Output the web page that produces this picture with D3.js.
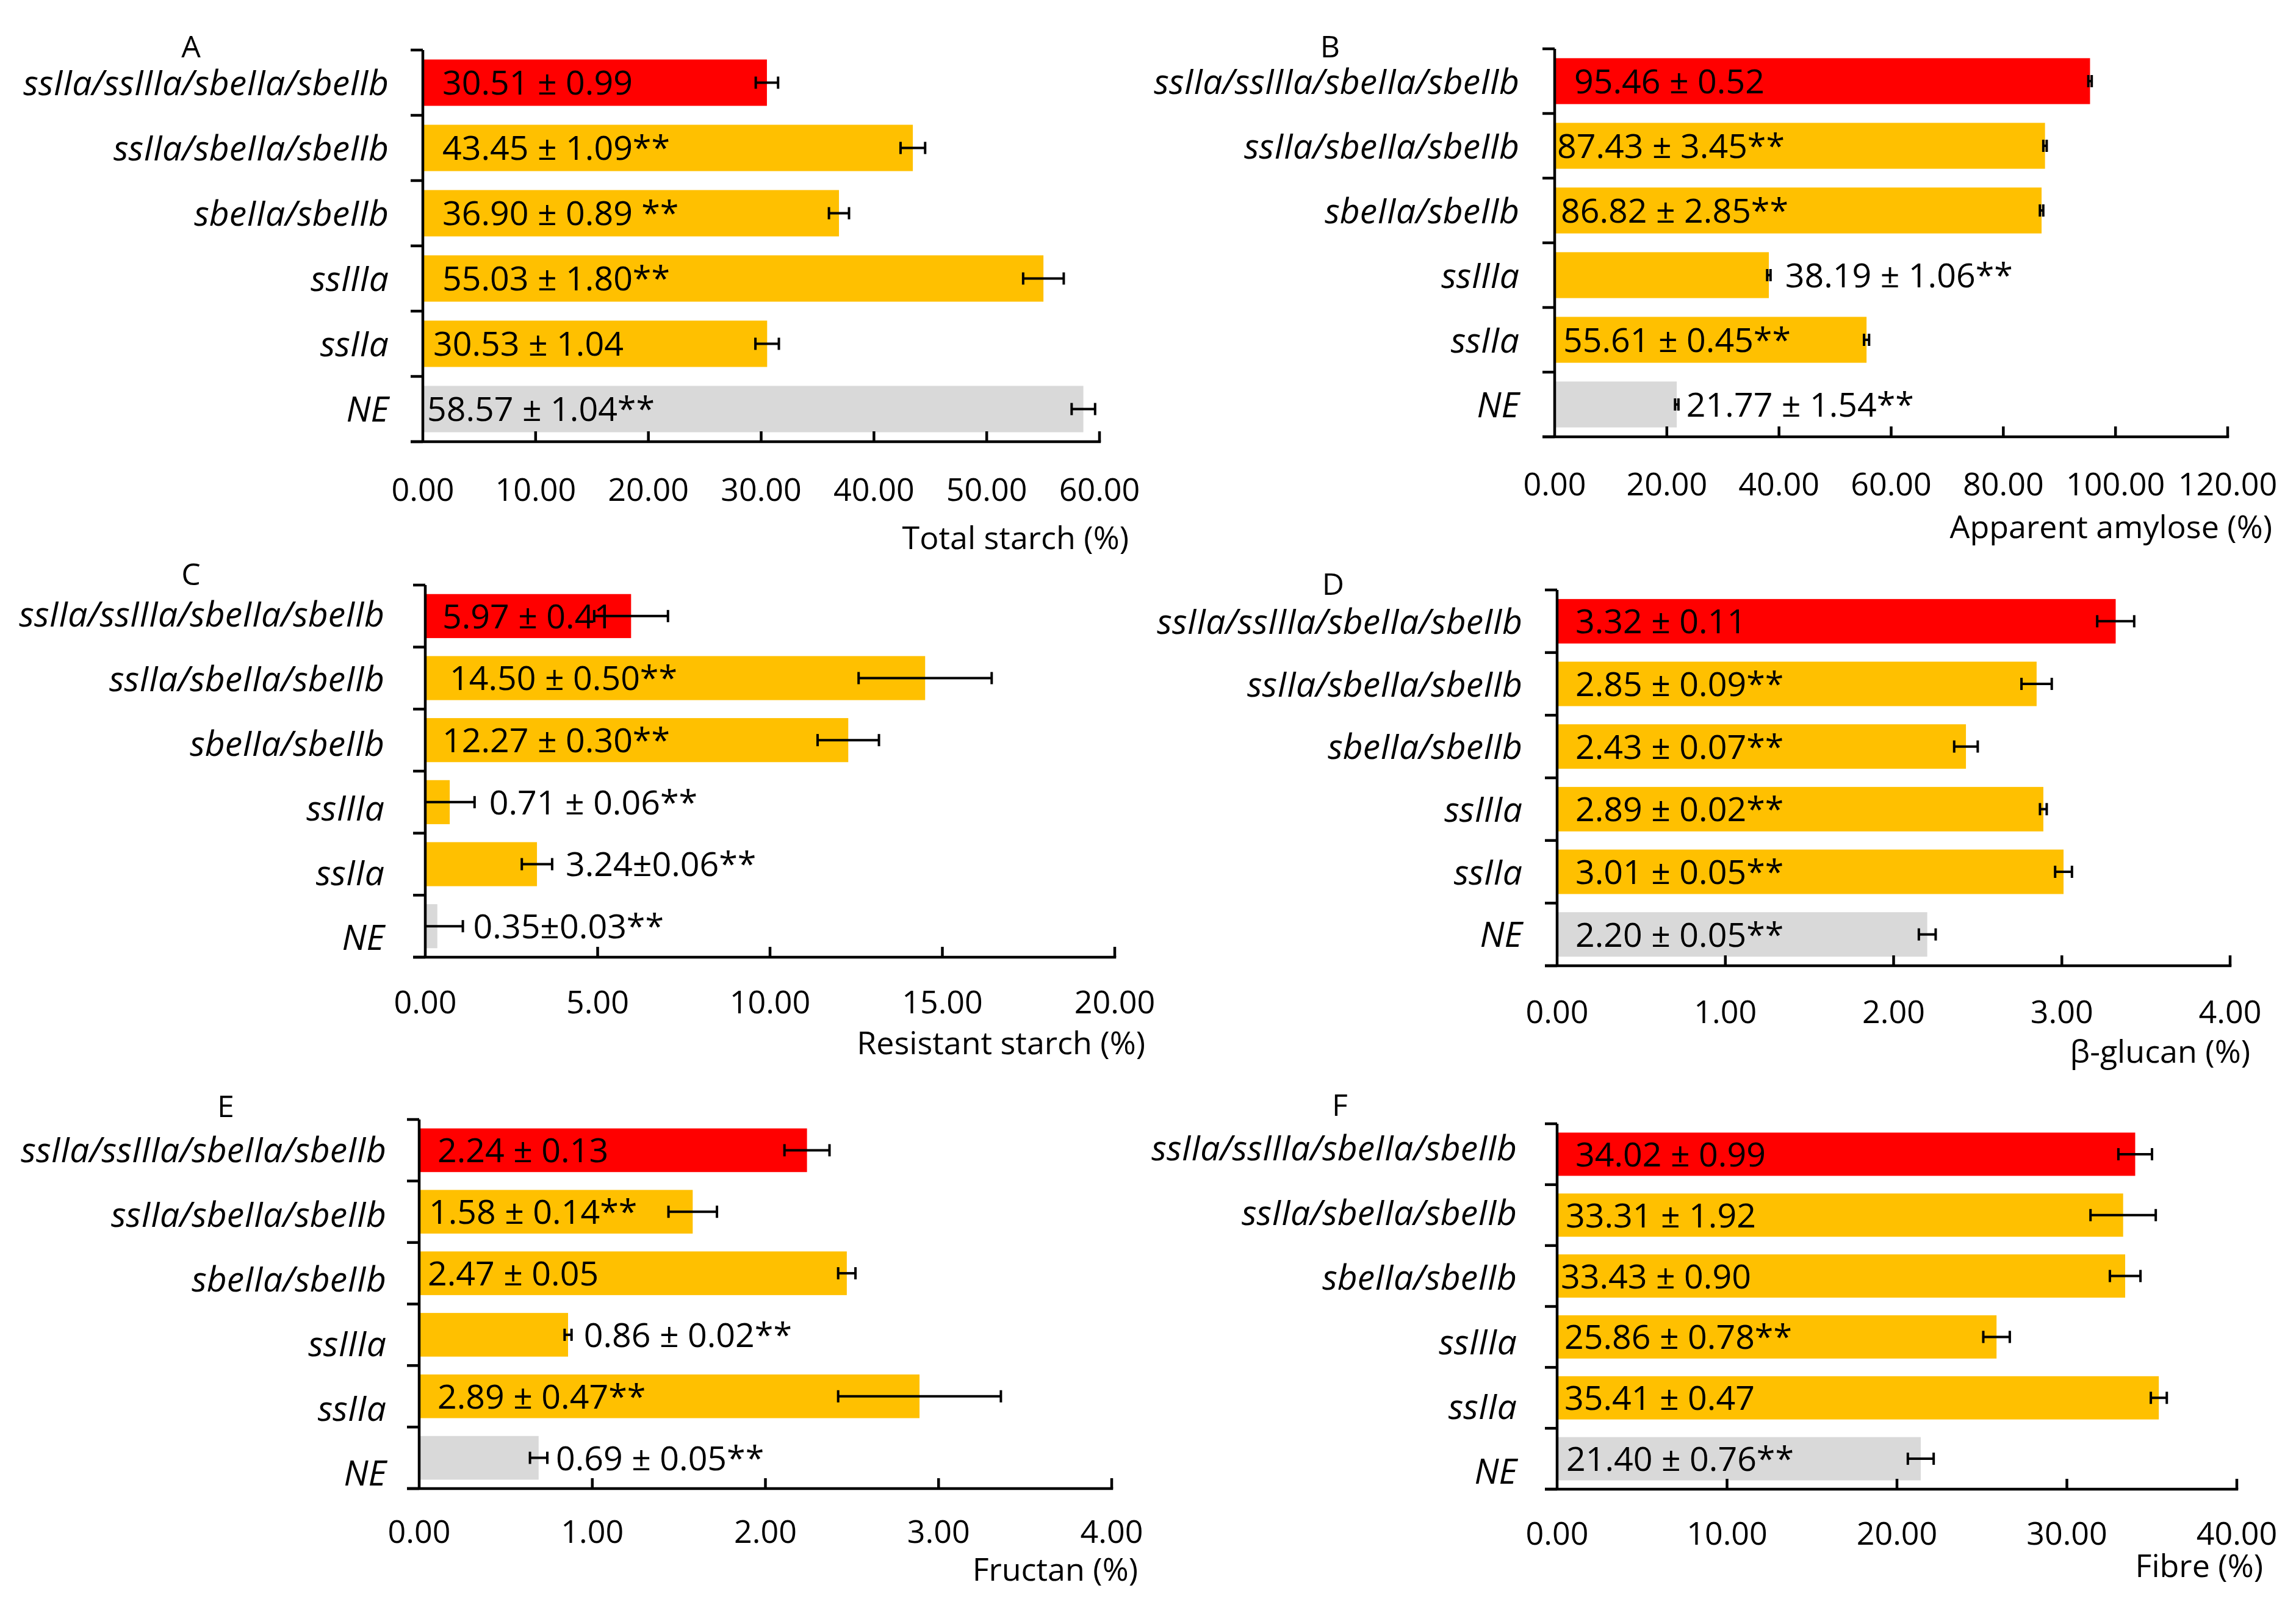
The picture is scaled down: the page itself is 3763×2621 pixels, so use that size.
<!DOCTYPE html>
<html>
<head>
<meta charset="utf-8">
<script src="https://cdn.jsdelivr.net/npm/d3@7/dist/d3.min.js"></script>
<style>
  html, body { margin: 0; padding: 0; background: #ffffff; }
  svg { display: block; }
  text { font-family: "Open Sans", "Noto Sans", "Liberation Sans", sans-serif; fill: #000; }
</style>
</head>
<body>
<svg id="chart" width="3763" height="2621"></svg>
<script>
// ---------------- DATA ----------------
const categories = ["ssIIa/ssIIIa/sbeIIa/sbeIIb", "ssIIa/sbeIIa/sbeIIb", "sbeIIa/sbeIIb", "ssIIIa", "ssIIa", "NE"];
const categoryColors = ["#FF0000", "#FFC000", "#FFC000", "#FFC000", "#FFC000", "#D9D9D9"];

const totalStarch      = [30.51, 43.45, 36.90, 55.03, 30.53, 58.57];
const totalStarchErr   = [0.99, 1.09, 0.89, 1.80, 1.04, 1.04];
const totalStarchLbl   = ["30.51 ± 0.99", "43.45 ± 1.09**", "36.90 ± 0.89 **", "55.03 ± 1.80**", "30.53 ± 1.04", "58.57 ± 1.04**"];
const totalStarchTicks = [0, 10, 20, 30, 40, 50, 60];

const amylose      = [95.46, 87.43, 86.82, 38.19, 55.61, 21.77];
const amyloseErr   = [0.3, 0.3, 0.3, 0.3, 0.45, 0.3];
const amyloseLbl   = ["95.46 ± 0.52", "87.43 ± 3.45**", "86.82 ± 2.85**", "38.19 ± 1.06**", "55.61 ± 0.45**", "21.77 ± 1.54**"];
const amyloseTicks = [0, 20, 40, 60, 80, 100, 120];

const resistant      = [5.97, 14.50, 12.27, 0.71, 3.24, 0.35];
const resistantErr   = [1.07, 1.93, 0.89, 0.72, 0.44, 0.74];
const resistantLbl   = ["5.97 ± 0.41", "14.50 ± 0.50**", "12.27 ± 0.30**", "0.71 ± 0.06**", "3.24±0.06**", "0.35±0.03**"];
const resistantTicks = [0, 5, 10, 15, 20];

const glucan      = [3.32, 2.85, 2.43, 2.89, 3.01, 2.20];
const glucanErr   = [0.11, 0.09, 0.07, 0.02, 0.05, 0.05];
const glucanLbl   = ["3.32 ± 0.11", "2.85 ± 0.09**", "2.43 ± 0.07**", "2.89 ± 0.02**", "3.01 ± 0.05**", "2.20 ± 0.05**"];
const glucanTicks = [0, 1, 2, 3, 4];

const fructan      = [2.24, 1.58, 2.47, 0.86, 2.89, 0.69];
const fructanErr   = [0.13, 0.14, 0.05, 0.02, 0.47, 0.05];
const fructanLbl   = ["2.24 ± 0.13", "1.58 ± 0.14**", "2.47 ± 0.05", "0.86 ± 0.02**", "2.89 ± 0.47**", "0.69 ± 0.05**"];
const fructanTicks = [0, 1, 2, 3, 4];

const fibre      = [34.02, 33.31, 33.43, 25.86, 35.41, 21.40];
const fibreErr   = [0.99, 1.92, 0.90, 0.78, 0.47, 0.76];
const fibreLbl   = ["34.02 ± 0.99", "33.31 ± 1.92", "33.43 ± 0.90", "25.86 ± 0.78**", "35.41 ± 0.47", "21.40 ± 0.76**"];
const fibreTicks = [0, 10, 20, 30, 40];

const panels = [
  { letter: "A", title: "Total starch (%)",      values: totalStarch, errs: totalStarchErr, labels: totalStarchLbl, ticks: totalStarchTicks },
  { letter: "B", title: "Apparent amylose (%)",  values: amylose,     errs: amyloseErr,     labels: amyloseLbl,     ticks: amyloseTicks },
  { letter: "C", title: "Resistant starch (%)",  values: resistant,   errs: resistantErr,   labels: resistantLbl,   ticks: resistantTicks },
  { letter: "D", title: "β-glucan (%)",          values: glucan,      errs: glucanErr,      labels: glucanLbl,      ticks: glucanTicks },
  { letter: "E", title: "Fructan (%)",           values: fructan,     errs: fructanErr,     labels: fructanLbl,     ticks: fructanTicks },
  { letter: "F", title: "Fibre (%)",             values: fibre,       errs: fibreErr,       labels: fibreLbl,       ticks: fibreTicks }
];

// ---------------- LAYOUT (pixels) ----------------
const layout = {
  A: { x0: 693,  x1: 1802, top: 82,   bottom: 724,  letter: [313, 94],   tickBase: 821,  titleR: 1850, titleBase: 900,  catR: 637,  catSpan: [82, 724],
       vpos: [["i",32],["i",32],["i",32],["i",32],["i",17],["i",7]] },
  B: { x0: 2548, x1: 3651, top: 80,   bottom: 716,  letter: [2180, 94],  tickBase: 812,  titleR: 3724, titleBase: 882,  catR: 2490, catSpan: [80, 716],
       vpos: [["i",32],["i",4],["i",10],["o",24],["i",14],["o",13]] },
  C: { x0: 697,  x1: 1827, top: 959,  bottom: 1569, letter: [313, 959],  tickBase: 1661, titleR: 1877, titleBase: 1728, catR: 630,  catSpan: [953, 1589],
       vpos: [["i",28],["i",40],["i",28],["o",24],["o",22],["o",17]] },
  D: { x0: 2552, x1: 3655, top: 967,  bottom: 1583, letter: [2185, 975], tickBase: 1677, titleR: 3688, titleBase: 1742, catR: 2495, catSpan: [967, 1583],
       vpos: [["i",30],["i",30],["i",30],["i",30],["i",30],["i",30]] },
  E: { x0: 687,  x1: 1822, top: 1835, bottom: 2440, letter: [370, 1831], tickBase: 2529, titleR: 1865, titleBase: 2591, catR: 633,  catSpan: [1831, 2467],
       vpos: [["i",30],["i",16],["i",14],["o",20],["i",30],["o",14]] },
  F: { x0: 2552, x1: 3666, top: 1842, bottom: 2441, letter: [2196, 1829], tickBase: 2532, titleR: 3709, titleBase: 2585, catR: 2486, catSpan: [1828, 2464],
       vpos: [["i",30],["i",14],["i",6],["i",12],["i",12],["i",15]] }
};

const AXIS_W = 4.5, TICK_LEN = 20, XTICK_LEN = 17, ERR_W = 4, CAP = 10;
const FS_CAT = 57, FS_VAL = 55.5, FS_TICK = 52, FS_TITLE = 52, FS_LETTER = 50;

const svg = d3.select("#chart");
svg.append("rect").attr("width", 3763).attr("height", 2621).attr("fill", "#fff");

panels.forEach(p => {
  const L = layout[p.letter];
  const g = svg.append("g");
  const x = d3.scaleLinear().domain([p.ticks[0], p.ticks[p.ticks.length - 1]]).range([L.x0, L.x1]);
  const y = d3.scaleBand().domain(categories).range([L.top, L.bottom]).paddingInner(0.29).paddingOuter(0.145);
  const yBand = d3.scaleBand().domain(categories).range([L.top, L.bottom]);
  const yCat = d3.scaleBand().domain(categories).range(L.catSpan);

  // bars
  g.selectAll("rect.bar").data(categories).join("rect")
    .attr("class", "bar")
    .attr("x", x(0))
    .attr("y", c => y(c))
    .attr("width", (c, i) => x(p.values[i]) - x(0))
    .attr("height", y.bandwidth())
    .attr("fill", (c, i) => categoryColors[i]);

  // error bars
  categories.forEach((c, i) => {
    const v = p.values[i], e = p.errs[i];
    const lo = Math.max(0, v - e), hi = v + e;
    const cy = y(c) + y.bandwidth() / 2;
    g.append("line").attr("x1", x(lo)).attr("x2", x(hi)).attr("y1", cy).attr("y2", cy)
      .attr("stroke", "#000").attr("stroke-width", ERR_W);
    g.append("line").attr("x1", x(hi)).attr("x2", x(hi)).attr("y1", cy - CAP).attr("y2", cy + CAP)
      .attr("stroke", "#000").attr("stroke-width", ERR_W);
    if (v - e >= 0) {
      g.append("line").attr("x1", x(lo)).attr("x2", x(lo)).attr("y1", cy - CAP).attr("y2", cy + CAP)
        .attr("stroke", "#000").attr("stroke-width", ERR_W);
    }
  });

  // value labels
  categories.forEach((c, i) => {
    const [mode, dx] = L.vpos[i];
    const cy = y(c) + y.bandwidth() / 2;
    const tx = mode === "i" ? x(0) + dx : x(p.values[i] + p.errs[i]) + dx;
    g.append("text").attr("x", tx).attr("y", cy).attr("dy", "0.36em")
      .attr("font-size", FS_VAL).text(p.labels[i]);
  });

  // y axis line
  g.append("line").attr("x1", L.x0).attr("x2", L.x0).attr("y1", L.top).attr("y2", L.bottom)
    .attr("stroke", "#000").attr("stroke-width", AXIS_W);
  // y axis ticks at band boundaries
  const bounds = categories.map(c => yBand(c)).concat([L.bottom]);
  bounds.forEach(b => {
    g.append("line").attr("x1", L.x0 - TICK_LEN).attr("x2", L.x0).attr("y1", b).attr("y2", b)
      .attr("stroke", "#000").attr("stroke-width", AXIS_W);
  });
  // x axis line
  g.append("line").attr("x1", L.x0 - TICK_LEN).attr("x2", L.x1 + AXIS_W / 2).attr("y1", L.bottom).attr("y2", L.bottom)
    .attr("stroke", "#000").attr("stroke-width", AXIS_W);
  // x ticks (inward)
  p.ticks.slice(1).forEach(t => {
    g.append("line").attr("x1", x(t)).attr("x2", x(t)).attr("y1", L.bottom).attr("y2", L.bottom - XTICK_LEN)
      .attr("stroke", "#000").attr("stroke-width", AXIS_W);
  });
  // tick labels
  g.selectAll("text.tick").data(p.ticks).join("text")
    .attr("class", "tick")
    .attr("x", t => x(t)).attr("y", L.tickBase)
    .attr("text-anchor", "middle").attr("font-size", FS_TICK)
    .text(t => d3.format(".2f")(t));

  // category labels
  g.selectAll("text.cat").data(categories).join("text")
    .attr("class", "cat")
    .attr("x", L.catR).attr("y", c => yCat(c) + yCat.bandwidth() / 2).attr("dy", "0.36em")
    .attr("text-anchor", "end").attr("font-size", FS_CAT).attr("font-style", "italic")
    .text(c => c);

  // axis title
  g.append("text").attr("x", L.titleR).attr("y", L.titleBase).attr("text-anchor", "end")
    .attr("font-size", FS_TITLE).text(p.title);

  // panel letter
  g.append("text").attr("x", L.letter[0]).attr("y", L.letter[1]).attr("text-anchor", "middle")
    .attr("font-size", FS_LETTER).text(p.letter);
});
</script>
</body>
</html>
